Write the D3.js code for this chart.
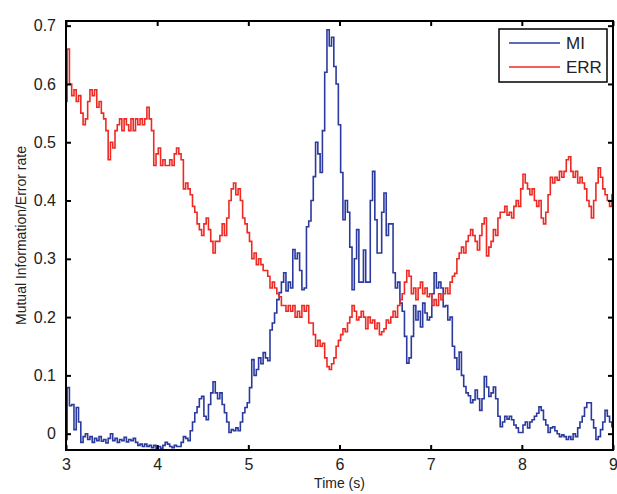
<!DOCTYPE html>
<html>
<head>
<meta charset="utf-8">
<script src="https://cdn.jsdelivr.net/npm/d3@7"></script>
<style>
  body { margin: 0; background: #fff; }
  svg text { font-family: "Liberation Sans", Arial, sans-serif; fill: #222; }
</style>
</head>
<body>
<div id="chart"></div>
<script>
// time axis: 3 s to 9 s, one sample every 0.025 s
const tStart = 3, tStep = 0.025;

// ERR (error rate)
const errValues = [
  0.57, 0.66, 0.60, 0.58, 0.59, 0.57, 0.58, 0.55, 0.53, 0.54,
  0.57, 0.59, 0.58, 0.59, 0.56, 0.57, 0.55, 0.54, 0.52, 0.47,
  0.50, 0.49, 0.52, 0.53, 0.54, 0.52, 0.54, 0.53, 0.52, 0.54,
  0.52, 0.54, 0.53, 0.54, 0.53, 0.54, 0.56, 0.54, 0.52, 0.46,
  0.48, 0.49, 0.46, 0.47, 0.46, 0.46, 0.47, 0.46, 0.48, 0.49,
  0.48, 0.47, 0.42, 0.43, 0.42, 0.41, 0.39, 0.38, 0.36, 0.35,
  0.34, 0.36, 0.37, 0.35, 0.33, 0.31, 0.33, 0.33, 0.34, 0.36,
  0.34, 0.37, 0.40, 0.42, 0.43, 0.41, 0.42, 0.40, 0.37, 0.36,
  0.345, 0.33, 0.30, 0.31, 0.29, 0.30, 0.29, 0.28, 0.28, 0.27,
  0.25, 0.26, 0.25, 0.24, 0.235, 0.22, 0.22, 0.21, 0.22, 0.21,
  0.22, 0.20, 0.21, 0.20, 0.22, 0.21, 0.22, 0.19, 0.19, 0.17,
  0.15, 0.16, 0.15, 0.155, 0.13, 0.115, 0.11, 0.12, 0.13, 0.15,
  0.16, 0.17, 0.18, 0.175, 0.19, 0.20, 0.22, 0.21, 0.195, 0.20,
  0.21, 0.20, 0.18, 0.20, 0.19, 0.195, 0.18, 0.19, 0.17, 0.175,
  0.18, 0.195, 0.19, 0.20, 0.21, 0.20, 0.22, 0.23, 0.24, 0.26,
  0.28, 0.27, 0.24, 0.25, 0.23, 0.25, 0.26, 0.24, 0.25, 0.235,
  0.24, 0.22, 0.23, 0.22, 0.24, 0.23, 0.24, 0.25, 0.24, 0.26,
  0.27, 0.275, 0.30, 0.31, 0.32, 0.31, 0.33, 0.34, 0.35, 0.34,
  0.33, 0.315, 0.34, 0.36, 0.37, 0.305, 0.32, 0.33, 0.35, 0.34,
  0.37, 0.38, 0.38, 0.39, 0.375, 0.38, 0.37, 0.39, 0.40, 0.39,
  0.42, 0.445, 0.43, 0.42, 0.41, 0.42, 0.40, 0.39, 0.40, 0.37,
  0.36, 0.38, 0.41, 0.44, 0.43, 0.44, 0.435, 0.45, 0.44, 0.45,
  0.47, 0.475, 0.45, 0.44, 0.45, 0.43, 0.44, 0.43, 0.42, 0.40,
  0.39, 0.37, 0.40, 0.43, 0.456, 0.44, 0.42, 0.41, 0.40, 0.39,
  0.41
];

// MI (mutual information)
const miValues = [
  -0.01, 0.079, 0.048, 0.05, 0.007, 0.045, 0.02, -0.015, -0.005, 0.0,
  -0.01, -0.005, -0.015, -0.008, -0.012, -0.005, -0.013, -0.01, -0.016, -0.008,
  0.0, -0.012, -0.008, -0.015, -0.01, -0.012, -0.006, -0.014, -0.01, -0.012,
  -0.008, -0.015, -0.02, -0.018, -0.022, -0.018, -0.022, -0.02, -0.024, -0.02,
  -0.025, -0.022, -0.025, -0.02, -0.015, -0.018, -0.022, -0.024, -0.02, -0.022,
  -0.022, -0.015, -0.005, -0.008, -0.012, 0.005, 0.02, 0.036, 0.046, 0.06,
  0.064, 0.03, 0.024, 0.05, 0.07, 0.089, 0.07, 0.06, 0.07, 0.05,
  0.036, 0.02, 0.002, 0.007, 0.005, 0.01, 0.005, 0.02, 0.036, 0.045,
  0.053, 0.079, 0.127, 0.10, 0.11, 0.13, 0.12, 0.139, 0.13, 0.125,
  0.178, 0.19, 0.207, 0.23, 0.242, 0.26, 0.276, 0.245, 0.26, 0.25,
  0.316, 0.30, 0.31, 0.28, 0.247, 0.25, 0.355, 0.365, 0.40, 0.441,
  0.50, 0.48, 0.448, 0.52, 0.62, 0.693, 0.665, 0.68, 0.63, 0.60,
  0.53, 0.448, 0.367, 0.40, 0.38, 0.32, 0.247, 0.30, 0.35, 0.26,
  0.26, 0.315, 0.26, 0.26, 0.40, 0.45, 0.367, 0.31, 0.31, 0.38,
  0.413, 0.34, 0.36, 0.36, 0.276, 0.25, 0.26, 0.224, 0.21, 0.167,
  0.121, 0.13, 0.167, 0.22, 0.195, 0.21, 0.183, 0.224, 0.207, 0.195,
  0.20, 0.24, 0.276, 0.25, 0.26, 0.25, 0.218, 0.22, 0.195, 0.20,
  0.15, 0.13, 0.11, 0.14, 0.10, 0.081, 0.07, 0.065, 0.053, 0.058,
  0.075, 0.06, 0.04, 0.06, 0.098, 0.08, 0.064, 0.07, 0.08, 0.06,
  0.03, 0.012, 0.02, 0.03, 0.025, 0.03, 0.024, 0.015, 0.01, 0.002,
  0.002, 0.015, 0.02, 0.01, 0.02, 0.024, 0.03, 0.035, 0.046, 0.04,
  0.024, 0.015, 0.002, 0.01, 0.012, 0.005, 0.0, -0.005, -0.002, -0.005,
  -0.01, -0.005, -0.01, 0.0, -0.005, 0.01, 0.02, 0.03, 0.045, 0.053,
  0.053, 0.024, 0.01, -0.01, -0.005, 0.007, 0.02, 0.04, 0.03, 0.02,
  0.012
];

const xTicks = [3, 4, 5, 6, 7, 8, 9];
const yTicks = [0, 0.1, 0.2, 0.3, 0.4, 0.5, 0.6, 0.7];
const seriesNames = ["MI", "ERR"];
const seriesColors = ["#2b3a9e", "#ee2a24"];

const margin = {top: 21, right: 4, bottom: 44, left: 66};
const width = 617 - margin.left - margin.right;
const height = 494 - margin.top - margin.bottom;

const svg = d3.select("#chart")
    .append("svg")
    .attr("width", 617)
    .attr("height", 494)
    .append("g")
    .attr("transform", "translate(" + margin.left + "," + margin.top + ")");

const x = d3.scaleLinear().domain([3, 9]).range([0, width]);
const y = d3.scaleLinear().domain([-0.028, 0.708]).range([height, 0]);

// stepped trace, like the dense sampled signal in the figure
const line = d3.line()
    .x((d, i) => x(tStart + i * tStep))
    .y(d => y(d))
    .curve(d3.curveStep);

svg.append("clipPath").attr("id", "clip")
    .append("rect").attr("width", width).attr("height", height);

const plot = svg.append("g").attr("clip-path", "url(#clip)");

[miValues, errValues].forEach((vals, k) => {
    plot.append("path")
        .datum(vals)
        .attr("fill", "none")
        .attr("stroke", seriesColors[k])
        .attr("stroke-width", 1.6)
        .attr("d", line);
});

// axes with inward ticks on all four sides
const fmt = d => d === 0 ? "0" : d3.format(".1f")(d);

const gx = svg.append("g")
    .attr("transform", "translate(0," + height + ")")
    .call(d3.axisBottom(x).tickValues(xTicks).tickSizeInner(-5).tickSizeOuter(0).tickPadding(9).tickFormat(d3.format("d")));
const gy = svg.append("g")
    .call(d3.axisLeft(y).tickValues(yTicks).tickSizeInner(-5).tickSizeOuter(0).tickPadding(10).tickFormat(fmt));
const gt = svg.append("g")
    .call(d3.axisTop(x).tickValues(xTicks).tickSizeInner(-5).tickSizeOuter(0).tickFormat(""));
const gr = svg.append("g")
    .attr("transform", "translate(" + width + ",0)")
    .call(d3.axisRight(y).tickValues(yTicks).tickSizeInner(-5).tickSizeOuter(0).tickFormat(""));

[gx, gy, gt, gr].forEach(g => {
    g.select(".domain").remove();
    g.selectAll(".tick line").attr("stroke", "#000").attr("stroke-width", 2);
    g.selectAll(".tick text").style("font-size", "16px").attr("fill", "#222");
});

svg.append("rect")
    .attr("width", width)
    .attr("height", height)
    .attr("fill", "none")
    .attr("stroke", "#000")
    .attr("stroke-width", 2);

// axis labels
svg.append("text")
    .attr("x", width / 2)
    .attr("y", height + 38)
    .attr("text-anchor", "middle")
    .style("font-size", "14px")
    .text("Time (s)");

svg.append("text")
    .attr("transform", "rotate(-90)")
    .attr("x", -height / 2)
    .attr("y", -40)
    .attr("text-anchor", "middle")
    .style("font-size", "14px")
    .text("Mutual Information/Error rate");

// legend
const legend = svg.append("g")
    .attr("transform", "translate(" + (width - 114) + ",8)");

legend.append("rect")
    .attr("width", 108)
    .attr("height", 53)
    .attr("fill", "#fff")
    .attr("stroke", "#000")
    .attr("stroke-width", 1.5);

seriesNames.forEach((name, i) => {
    legend.append("line")
        .attr("x1", 10).attr("x2", 61)
        .attr("y1", 14 + i * 24).attr("y2", 14 + i * 24)
        .attr("stroke", seriesColors[i])
        .attr("stroke-width", 1.6);
    legend.append("text")
        .attr("x", 67)
        .attr("y", 14 + i * 24)
        .attr("dy", "0.36em")
        .style("font-size", "17px")
        .text(name);
});
</script>
</body>
</html>
